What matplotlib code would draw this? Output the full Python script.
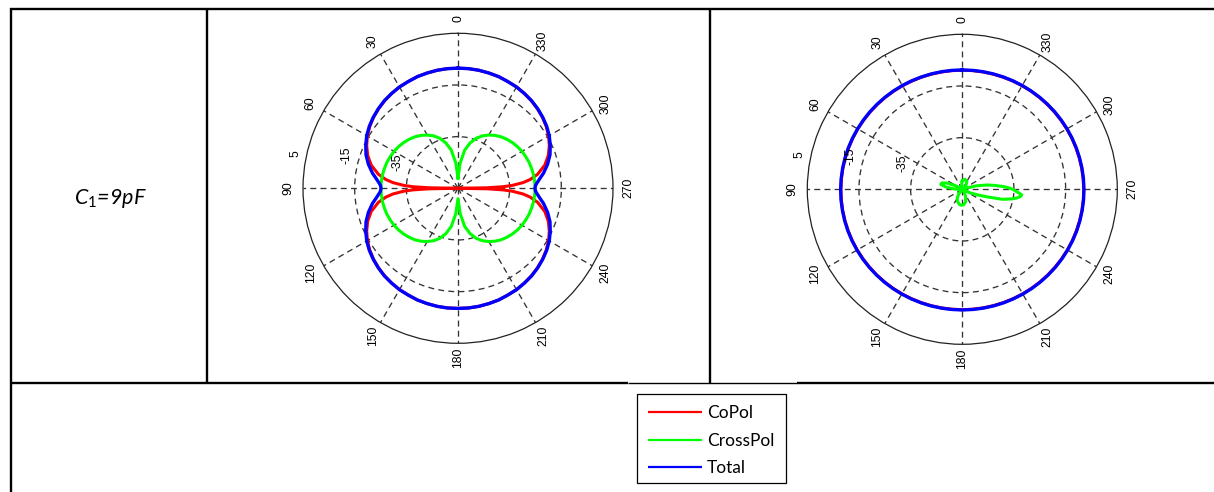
import numpy as np
import matplotlib
matplotlib.use("Agg")
import matplotlib.pyplot as plt
from matplotlib.lines import Line2D
from matplotlib.patches import Rectangle

plt.rcParams['mathtext.fontset'] = 'custom'
plt.rcParams['mathtext.it'] = 'Lato:italic'
plt.rcParams['mathtext.rm'] = 'Lato'

# ---------------- data ----------------
row_label = r'$C_{\mathit{1}}$=9pF'
legend_labels = ['CoPol', 'CrossPol', 'Total']
series_colors = ['#ff0000', '#00ff00', '#0000ff']

angle_ticks = [0, 30, 60, 90, 120, 150, 180, 210, 240, 270, 300, 330]
angle_tick_labels = ['0', '30', '60', '90', '120', '150', '180', '210', '240', '270', '300', '330']
r_ticks = [-35, -15, 5]
r_tick_labels = ['-35', '-15', '5']
r_min, r_max = -55, 5

# Pattern 1 (left plot)
theta1 = [0, 5, 10, 15, 20, 25, 30, 35, 40, 45, 50, 55, 60, 65, 70, 75, 80, 83, 85, 87, 88, 89, 90,
          91, 92, 93, 95, 97, 100, 105, 110, 115, 120, 125, 130, 135, 140, 145, 150, 155, 160, 165, 170, 175, 180,
          185, 190, 195, 200, 205, 210, 215, 220, 225, 230, 235, 240, 245, 250, 255, 260, 263, 265, 267, 268, 269, 270,
          271, 272, 273, 275, 277, 280, 285, 290, 295, 300, 305, 310, 315, 320, 325, 330, 335, 340, 345, 350, 355, 360]
copol1 = [-8.5, -8.5, -8.6, -8.8, -9.0, -9.4, -9.7, -10.2, -10.8, -11.5, -12.3, -13.3, -14.5, -16.0, -17.8, -20.2, -23.7, -26.8, -29.7, -34.1, -37.6, -43.7, -55.0,
          -43.7, -37.6, -34.1, -29.7, -26.8, -23.7, -20.2, -17.8, -16.0, -14.5, -13.3, -12.3, -11.5, -10.8, -10.2, -9.7, -9.4, -9.0, -8.8, -8.6, -8.5, -8.5,
          -8.5, -8.6, -8.8, -9.0, -9.4, -9.7, -10.2, -10.8, -11.5, -12.3, -13.3, -14.5, -16.0, -17.8, -20.2, -23.7, -26.8, -29.7, -34.1, -37.6, -43.7, -55.0,
          -43.7, -37.6, -34.1, -29.7, -26.8, -23.7, -20.2, -17.8, -16.0, -14.5, -13.3, -12.3, -11.5, -10.8, -10.2, -9.7, -9.4, -9.0, -8.8, -8.6, -8.5, -8.5]
crosspol1 = [-51.0, -45.1, -40.0, -36.8, -34.4, -32.6, -31.2, -30.0, -29.0, -28.2, -27.5, -26.9, -26.4, -26.05, -25.7, -25.5, -25.3, -25.27, -25.23, -25.2, -25.2, -25.2, -25.2,
             -25.2, -25.2, -25.2, -25.23, -25.27, -25.3, -25.5, -25.7, -26.05, -26.4, -26.9, -27.5, -28.2, -29.0, -30.0, -31.2, -32.6, -34.4, -36.8, -40.0, -45.1, -51.0,
             -45.1, -40.0, -36.8, -34.4, -32.6, -31.2, -30.0, -29.0, -28.2, -27.5, -26.9, -26.4, -26.05, -25.7, -25.5, -25.3, -25.27, -25.23, -25.2, -25.2, -25.2, -25.2,
             -25.2, -25.2, -25.2, -25.23, -25.27, -25.3, -25.5, -25.7, -26.05, -26.4, -26.9, -27.5, -28.2, -29.0, -30.0, -31.2, -32.6, -34.4, -36.8, -40.0, -45.1, -51.0]
total1 = [-8.5, -8.5, -8.6, -8.8, -9.0, -9.4, -9.7, -10.2, -10.7, -11.4, -12.2, -13.1, -14.2, -15.6, -17.1, -19.1, -21.4, -23.0, -23.9, -24.7, -24.96, -25.1, -25.2,
          -25.1, -24.96, -24.7, -23.9, -23.0, -21.4, -19.1, -17.1, -15.6, -14.2, -13.1, -12.2, -11.4, -10.7, -10.2, -9.7, -9.4, -9.0, -8.8, -8.6, -8.5, -8.5,
          -8.5, -8.6, -8.8, -9.0, -9.4, -9.7, -10.2, -10.7, -11.4, -12.2, -13.1, -14.2, -15.6, -17.1, -19.1, -21.4, -23.0, -23.9, -24.7, -24.96, -25.1, -25.2,
          -25.1, -24.96, -24.7, -23.9, -23.0, -21.4, -19.1, -17.1, -15.6, -14.2, -13.1, -12.2, -11.4, -10.7, -10.2, -9.7, -9.4, -9.0, -8.8, -8.6, -8.5, -8.5]

# Pattern 2 (right plot)
theta2 = [0, 5, 10, 15, 20, 25, 30, 35, 40, 45, 50, 55, 60, 65, 70, 75, 80, 85, 90,
          95, 100, 105, 110, 115, 120, 125, 130, 135, 140, 145, 150, 155, 160, 165, 170, 175, 180,
          185, 190, 195, 200, 205, 210, 215, 220, 225, 230, 235, 240, 245, 250, 255, 260, 265, 270,
          275, 280, 285, 290, 295, 300, 305, 310, 315, 320, 325, 330, 335, 340, 345, 350, 355, 360]
total2 = [-8.80, -8.79, -8.78, -8.75, -8.71, -8.66, -8.60, -8.54, -8.47, -8.40, -8.33, -8.26, -8.19, -8.12, -8.06, -8.01, -7.96, -7.93, -7.90,
          -7.88, -7.88, -7.88, -7.89, -7.91, -7.94, -7.97, -8.01, -8.05, -8.09, -8.13, -8.17, -8.21, -8.24, -8.27, -8.29, -8.30, -8.30,
          -8.30, -8.29, -8.27, -8.24, -8.21, -8.17, -8.13, -8.09, -8.05, -8.01, -7.97, -7.94, -7.91, -7.89, -7.88, -7.88, -7.88, -7.90,
          -7.93, -7.96, -8.01, -8.06, -8.12, -8.19, -8.26, -8.33, -8.40, -8.47, -8.54, -8.60, -8.66, -8.71, -8.75, -8.78, -8.79, -8.80]
copol2 = [-8.90, -8.89, -8.88, -8.85, -8.81, -8.76, -8.70, -8.64, -8.57, -8.50, -8.43, -8.36, -8.29, -8.22, -8.16, -8.11, -8.06, -8.03, -8.00,
          -7.98, -7.98, -7.98, -7.99, -8.01, -8.04, -8.07, -8.11, -8.15, -8.19, -8.23, -8.27, -8.31, -8.34, -8.37, -8.39, -8.40, -8.40,
          -8.40, -8.39, -8.37, -8.34, -8.31, -8.27, -8.23, -8.19, -8.15, -8.11, -8.07, -8.04, -8.01, -7.99, -7.98, -7.98, -7.98, -8.00,
          -8.03, -8.06, -8.11, -8.16, -8.22, -8.29, -8.36, -8.43, -8.50, -8.57, -8.64, -8.70, -8.76, -8.81, -8.85, -8.88, -8.89, -8.90]
theta2_x = [0, 5, 15, 25, 40, 55, 62, 68, 73, 77, 82, 88, 95, 110, 130, 140, 150, 160, 170, 178,
            185, 195, 205, 215, 225, 240, 245, 250, 253, 256, 259, 261, 263, 264.5, 266, 268, 270, 272, 274,
            277, 280, 284, 290, 300, 315, 330, 345, 355, 360]
crosspol2 = [-51.8, -52.5, -54, -55, -55, -55, -52, -48.5, -46.7, -46.5, -48.5, -52, -55, -55, -55, -53, -51, -49.8, -49, -48.8,
             -49, -50, -52, -54, -55, -55, -52, -48.5, -45, -39, -35.5, -33.6, -32.3, -31.9, -32.8, -34.3, -35.4, -37.2, -39.3,
             -42.5, -45.4, -49.5, -54, -55, -53, -51.5, -51, -51.5, -51.8]

# ---------------- figure ----------------
W, H = 1214, 492
fig = plt.figure(figsize=(W / 100, H / 100), dpi=100)
fig.patch.set_facecolor('white')


def fx(x):
    return x / W


def fy(y):
    return 1 - y / H


def hline(y, x0, x1, lw=1.7):
    fig.add_artist(Line2D([fx(x0), fx(x1)], [fy(y), fy(y)], transform=fig.transFigure,
                          color='black', lw=lw, solid_capstyle='butt'))


def vline(x, y0, y1, lw=1.7):
    fig.add_artist(Line2D([fx(x), fx(x)], [fy(y0), fy(y1)], transform=fig.transFigure,
                          color='black', lw=lw, solid_capstyle='butt'))


# table lines
hline(8.7, 9.5, W)
vline(10.5, 7.8, H)
vline(207, 7.8, 382.7)
vline(710, 7.8, 382.7)
hline(382.7, 9.5, 628)
hline(383.0, 628, 797, lw=1.0)
hline(382.7, 797, W)

tick_font = 'Liberation Sans'
tick_size = 8.8
R_PX = 155.0


def make_polar(cx, cy, series):
    ax = fig.add_axes([fx(cx - R_PX), fy(cy + R_PX), 2 * R_PX / W, 2 * R_PX / H], projection='polar')
    ax.set_theta_zero_location('N')
    ax.set_theta_direction(1)
    ax.set_rlim(r_min, r_max)
    ax.set_thetagrids(angle_ticks, labels=[''] * len(angle_ticks))
    ax.set_rgrids(r_ticks[:-1], labels=[''] * (len(r_ticks) - 1))
    ax.grid(True, color='#333333', linestyle=(0, (4.5, 3.2)), linewidth=0.95)
    ax.tick_params(length=0)
    ax.spines['polar'].set_color('#222222')
    ax.spines['polar'].set_linewidth(0.9)
    ax.set_facecolor('white')
    for th, vals, col, lw in series:
        ax.plot(np.deg2rad(th), vals, color=col, lw=lw, solid_joinstyle='round')
    # angle labels
    r_lab = r_min + 170.0 / R_PX * (r_max - r_min)
    for a, lab in zip(angle_ticks, angle_tick_labels):
        ax.text(np.deg2rad(a), r_lab, lab, rotation=90, ha='center', va='center',
                fontsize=tick_size, family=tick_font, color='black', clip_on=False)
    # radial labels
    for v, lab in zip(r_ticks, r_tick_labels):
        ax.annotate(lab, xy=(np.deg2rad(82), v), xytext=(-6.5, 7.2), textcoords='offset points',
                    rotation=90, rotation_mode='anchor', ha='left', va='center',
                    fontsize=tick_size, family=tick_font, color='black', annotation_clip=False)
    return ax


make_polar(458, 188.3, [
    (theta1, copol1, series_colors[0], 2.2),
    (theta1, crosspol1, series_colors[1], 2.2),
    (theta1, total1, series_colors[2], 2.4),
])
make_polar(962.3, 189.3, [
    (theta2, copol2, series_colors[0], 2.2),
    (theta2_x, crosspol2, series_colors[1], 2.2),
    (theta2, total2, series_colors[2], 2.4),
])

# row label
fig.text(fx(110), fy(203.5), row_label, ha='center', va='baseline', fontsize=15.5,
         family='Lato', style='italic', color='black')

# legend
fig.add_artist(Rectangle((fx(637), fy(482.5)), fx(786) - fx(637), fy(394) - fy(482.5),
                         transform=fig.transFigure, facecolor='white', edgecolor='black', lw=0.9))
leg_y = [412, 440, 467]
for lab, col, y in zip(legend_labels, series_colors, leg_y):
    fig.add_artist(Line2D([fx(648), fx(702)], [fy(y), fy(y)], transform=fig.transFigure,
                          color=col, lw=1.6, solid_capstyle='butt'))
    fig.text(fx(707), fy(y + 6.3), lab, ha='left', va='baseline', fontsize=12.5,
             family='Lato', color='black')

fig.savefig('out.png', dpi=100, facecolor='white')
